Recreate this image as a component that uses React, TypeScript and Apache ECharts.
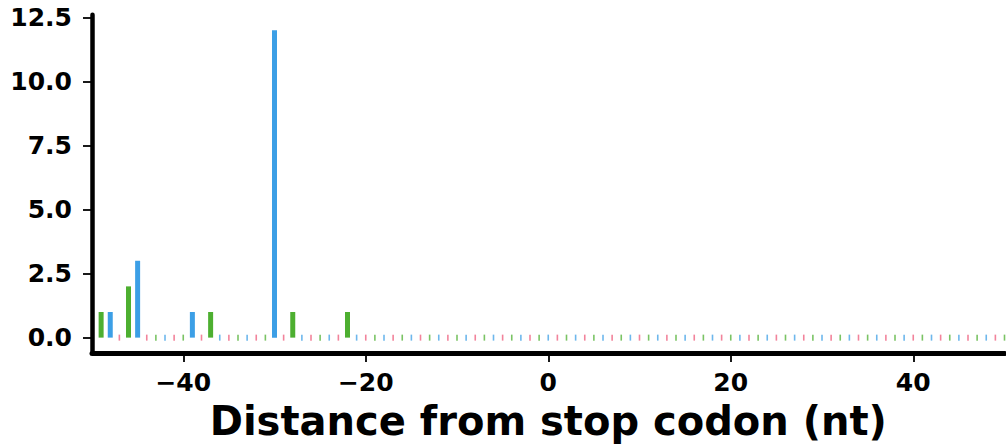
import React, { useEffect, useRef } from "react";
import * as echarts from "echarts";

// Distance from stop codon (nt), -50 .. 50
const positions: number[] = [];
for (let x = -50; x <= 50; x++) positions.push(x);

// Read counts for each position (index 0 = -50)
const counts: number[] = [
  0, 1, 1, 0, 2, 3, 0, 0, 0, 0, // -50 .. -41
  0, 1, 0, 1, 0, 0, 0, 0, 0, 0, // -40 .. -31
  12, 0, 1, 0, 0, 0, 0, 0, 1, 0, // -30 .. -21
  0, 0, 0, 0, 0, 0, 0, 0, 0, 0, // -20 .. -11
  0, 0, 0, 0, 0, 0, 0, 0, 0, 0, // -10 .. -1
  0, 0, 0, 0, 0, 0, 0, 0, 0, 0, // 0 .. 9
  0, 0, 0, 0, 0, 0, 0, 0, 0, 0, // 10 .. 19
  0, 0, 0, 0, 0, 0, 0, 0, 0, 0, // 20 .. 29
  0, 0, 0, 0, 0, 0, 0, 0, 0, 0, // 30 .. 39
  0, 0, 0, 0, 0, 0, 0, 0, 0, 0, // 40 .. 49
  0, // 50
];

const xTicks = [-40, -20, 0, 20, 40];
const yTicks = [0, 2.5, 5, 7.5, 10, 12.5];

// frame (x mod 3): 0 blue, 1 pink, 2 green
const frameColors = ["#3c9fe6", "#ee5a7a", "#4daf30"];
const frameOf = (x: number) => ((x % 3) + 3) % 3;

const FONT = "DejaVu Sans";

export default function App() {
  const ref = useRef<HTMLDivElement>(null);
  useEffect(() => {
    if (!ref.current) return;
    const chart = echarts.init(ref.current, null, { renderer: "svg" });
    const barData = positions
      .map((x, i) => ({ x, v: counts[i] }))
      .filter((d) => d.v > 0)
      .map((d) => ({ value: [d.x, d.v], itemStyle: { color: frameColors[frameOf(d.x)] } }));
    const zeroData = positions
      .map((x, i) => ({ x, v: counts[i] }))
      .filter((d) => d.v === 0)
      .map((d) => ({ value: [d.x, 0], itemStyle: { color: frameColors[frameOf(d.x)], opacity: 0.75 } }));
    chart.setOption({
      animation: false,
      grid: {
        left: 92,
        right: 1.5,
        top: 14.8,
        bottom: 93,
        containLabel: false,
        outerBoundsMode: "none",
      },
      xAxis: {
        type: "value",
        min: -50,
        max: 50,
        z: 10,
        splitLine: { show: false },
        axisLine: { show: true, onZero: false, lineStyle: { color: "#000", width: 5 } },
        axisTick: { show: true, customValues: xTicks, length: 9, lineStyle: { color: "#000", width: 1.8 } },
        axisLabel: {
          customValues: xTicks,
          margin: 17,
          fontFamily: FONT,
          fontWeight: "bold",
          fontSize: 25,
          color: "#000",
          formatter: (v: number) => (v < 0 ? "\u2212" + Math.abs(v) : String(v)),
        },
        name: "Distance from stop codon (nt)",
        nameLocation: "middle",
        nameGap: 48,
        nameTextStyle: { fontFamily: FONT, fontWeight: "bold", fontSize: 40, color: "#000" },
      },
      yAxis: {
        type: "value",
        min: -0.6,
        max: 12.6,
        z: 10,
        splitLine: { show: false },
        axisLine: { show: true, onZero: false, lineStyle: { color: "#000", width: 4.5 } },
        axisTick: { show: true, customValues: yTicks, length: 9, lineStyle: { color: "#000", width: 1.8 } },
        axisLabel: {
          customValues: yTicks,
          margin: 20,
          fontFamily: FONT,
          fontWeight: "bold",
          fontSize: 25,
          color: "#000",
          formatter: (v: number) => v.toFixed(1),
        },
      },
      series: [
        {
          type: "bar",
          data: barData,
          barWidth: 5,
          itemStyle: { borderWidth: 0 },
        },
        {
          type: "scatter",
          data: zeroData,
          symbol: "rect",
          symbolSize: [1.6, 6],
        },
      ],
    });
    return () => chart.dispose();
  }, []);
  return (
    <div
      ref={ref}
      style={{ position: "fixed", left: 0, top: 0, width: 1006, height: 446, background: "#fff" }}
    />
  );
}
